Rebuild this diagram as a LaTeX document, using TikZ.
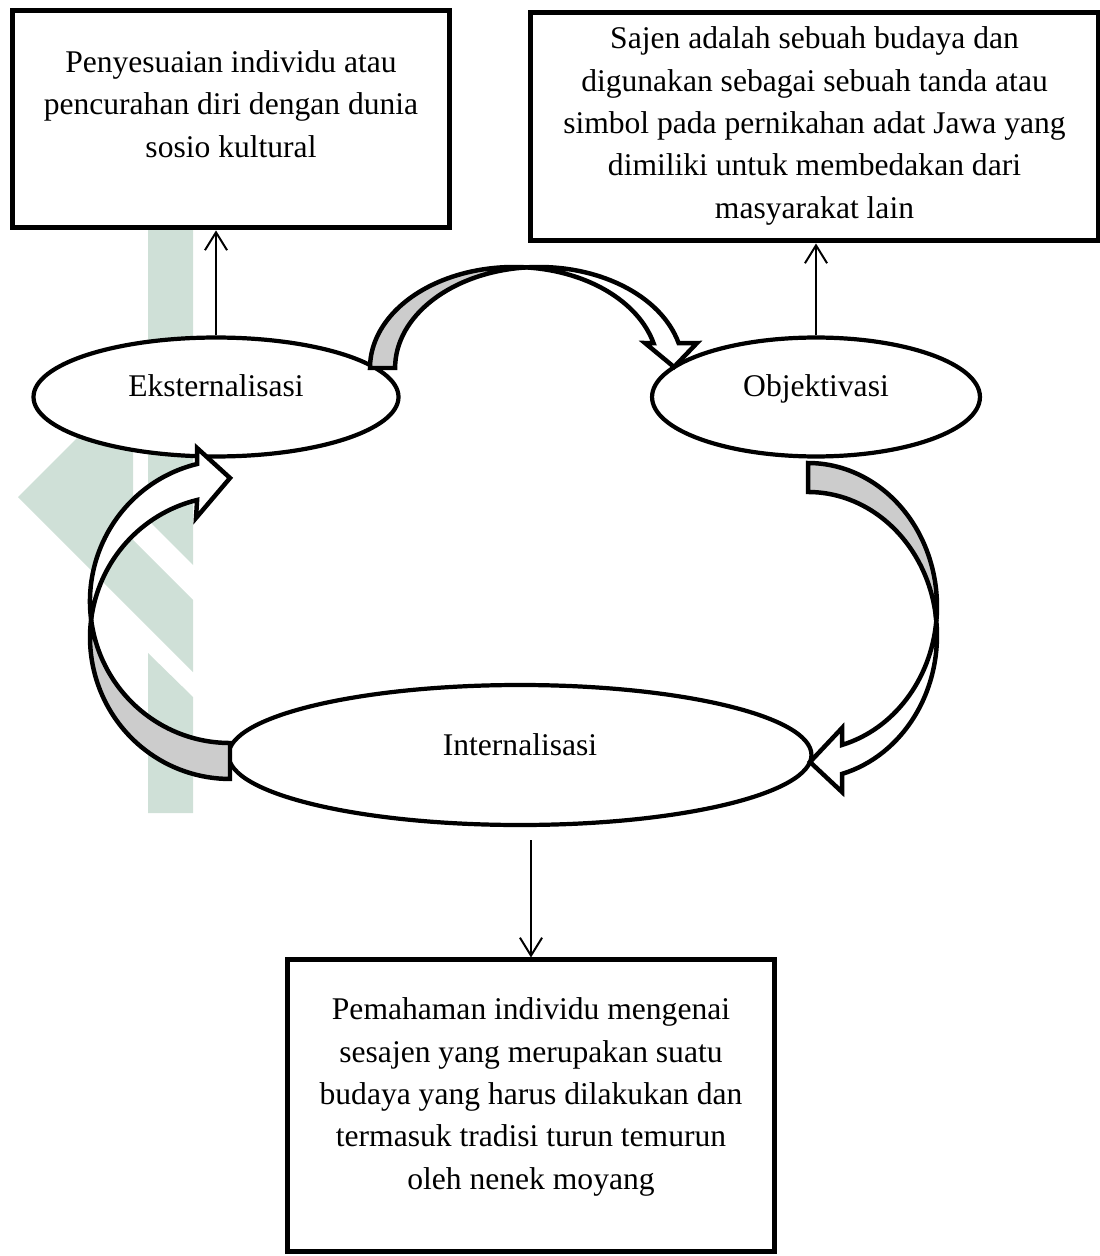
\documentclass[tikz,border=0pt]{standalone}
\usepackage{fontspec}
\setmainfont{Liberation Serif}
\usetikzlibrary{shapes.geometric,arrows.meta}
\definecolor{hijaumuda}{RGB}{207,224,215}

\begin{document}
\begin{tikzpicture}[x=0.38pt,y=-0.38pt,
    kotak/.style={draw, rectangle, line width=1.9pt, fill=white},
    teks/.style={align=center, font=\fontsize{12pt}{16.1pt}\selectfont},
    elips/.style={draw, ellipse, line width=1.6pt, fill=white, inner sep=0pt, text height=8pt, text depth=8pt, font=\fontsize{12pt}{16.1pt}\selectfont},
    panah/.style={line width=0.75pt, -{Straight Barb[length=6.8pt, width=8.4pt]}},
    punggung/.style={draw, line width=1.7pt, fill=black!20},
    depan/.style={draw, line width=1.7pt, fill=white},
    logo/.style={fill=hijaumuda, draw=none}]

\useasboundingbox (0,0) rectangle (1100,1256);

% watermark di belakang
\fill[logo] (148,228) -- (193,228) -- (193,565) -- (148,520) -- cycle;
\fill[logo] (18,497) -- (133,382) -- (133,540) -- (193,600) -- (193,672) -- cycle;
\fill[logo] (148,653) -- (193,697) -- (193,813) -- (148,813) -- cycle;

% kotak keterangan
\node[kotak, minimum width=166.4pt, minimum height=82.8pt] (kotakA) at (231,119) {};
\node[teks] (teksA) at (231,104) {Penyesuaian individu atau\\pencurahan diri dengan dunia\\sosio kultural};
\node[kotak, minimum width=215.5pt, minimum height=87pt] (kotakB) at (814.5,126.5) {};
\node[teks] (teksB) at (814.5,126) {Sajen adalah sebuah budaya dan\\digunakan sebagai sebuah tanda atau\\simbol pada pernikahan adat Jawa yang\\dimiliki untuk membedakan dari\\masyarakat lain};
\node[kotak, minimum width=185.4pt, minimum height=110.6pt] (kotakC) at (531,1105.5) {};
\node[teks] (teksC) at (531,1097) {Pemahaman individu mengenai\\sesajen yang merupakan suatu\\budaya yang harus dilakukan dan\\termasuk tradisi turun temurun\\oleh nenek moyang};

% tiga tahap
\node[elips, minimum width=138.7pt, minimum height=45.2pt] (eks) at (216,397) {Eksternalisasi};
\node[elips, minimum width=124.6pt, minimum height=45.2pt] (obj) at (816,397) {Objektivasi};
\node[elips, minimum width=221.5pt, minimum height=53.2pt] (int) at (520,755) {Internalisasi};

\draw[panah] (eks.north) -- (eks.north |- kotakA.south);
\draw[panah] (obj.north) -- (obj.north |- kotakB.south);
\coordinate (awal) at (531,840);
\draw[panah] (awal) -- (kotakC.north);

% panah lengkung atas
\draw[punggung] (370,368) arc[start angle=180, end angle=275, x radius=144, y radius=101]
    arc[start angle=265, end angle=180, x radius=144, y radius=101] -- cycle;
\draw[depan] (526.5,267.4) arc[start angle=265, end angle=345.7, x radius=144, y radius=101]
    -- (697,343) -- (674,367) -- (645,343) -- (653.5,343.1)
    arc[start angle=345.7, end angle=275, x radius=144, y radius=101] -- cycle;

% panah lengkung kiri
\draw[punggung] (230,743) arc[start angle=90, end angle=172.7, x radius=140, y radius=141.5]
    arc[start angle=187.3, end angle=90, x radius=140, y radius=141.5] -- cycle;
\draw[depan] (91.1,619.5) arc[start angle=172.7, end angle=256.4, x radius=140, y radius=141.5]
    -- (197,448) -- (230,478) -- (196,518) -- (197.1,500)
    arc[start angle=256.4, end angle=187.3, x radius=140, y radius=141.5] -- cycle;

% panah lengkung kanan
\draw[punggung] (808,463) arc[start angle=-90, end angle=5.8, x radius=129, y radius=143.5]
    arc[start angle=-5.8, end angle=-90, x radius=129, y radius=143.5] -- cycle;
\draw[depan] (936.3,621) arc[start angle=5.8, end angle=74.7, x radius=129, y radius=143.5]
    -- (842,728) -- (810,762) -- (842,792) -- (842,773.9)
    arc[start angle=74.7, end angle=-5.8, x radius=129, y radius=143.5] -- cycle;
\end{tikzpicture}
\end{document}
